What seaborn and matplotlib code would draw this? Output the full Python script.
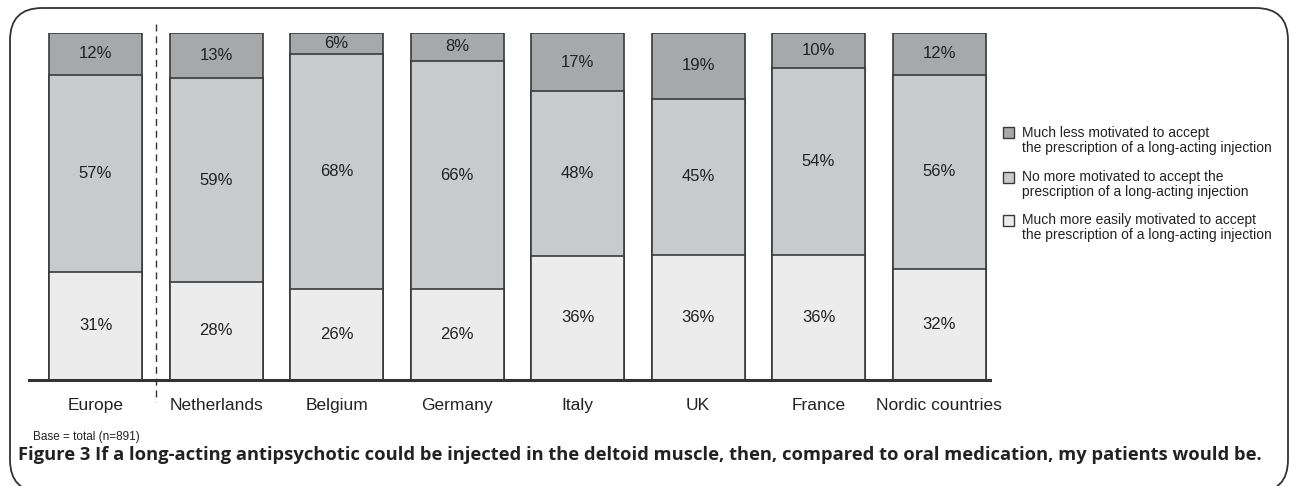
import numpy as np
import matplotlib
matplotlib.use("Agg")
import matplotlib.pyplot as plt
from matplotlib.patches import FancyBboxPatch, Rectangle
import seaborn as sns

# data
countries = ["Europe", "Netherlands", "Belgium", "Germany", "Italy", "UK", "France", "Nordic countries"]
much_less = [12, 13, 6, 8, 17, 19, 10, 12]
no_more = [57, 59, 68, 66, 48, 45, 54, 56]
much_more = [31, 28, 26, 26, 36, 36, 36, 32]

legend_labels = [
    "Much less motivated to accept\nthe prescription of a long-acting injection",
    "No more motivated to accept the\nprescription of a long-acting injection",
    "Much more easily motivated to accept\nthe prescription of a long-acting injection",
]
base_note = "Base = total (n=891)"
caption_bold = "Figure 3"
caption_rest = "If a long-acting antipsychotic could be injected in the deltoid muscle, then, compared to oral medication, my patients would be."

c_dark = "#a7a8aa"
c_mid = "#c9cacc"
c_light = "#ececed"
edge = "#3a3a3a"

sns.set_style("white")
plt.rcParams["font.family"] = ["Liberation Sans", "DejaVu Sans"]

W, H = 1290, 486
fig = plt.figure(figsize=(W / 100, H / 100), dpi=100)
ax = fig.add_axes([29 / W, 106.5 / H, 961 / W, 346.5 / H])

# bars are scaled so each column fills 100%
low = np.array(much_more, float)
mid = np.array(no_more, float)
top = np.array(much_less, float)
tot = low + mid + top
low_n = low / tot * 100
mid_n = mid / tot * 100
top_n = top / tot * 100

bw = 0.772
sns.barplot(x=countries, y=low_n + mid_n + top_n, color=c_dark, saturation=1,
            edgecolor=edge, linewidth=1.2, width=bw, ax=ax)
sns.barplot(x=countries, y=low_n + mid_n, color=c_mid, saturation=1,
            edgecolor=edge, linewidth=1.2, width=bw, ax=ax)
sns.barplot(x=countries, y=low_n, color=c_light, saturation=1,
            edgecolor=edge, linewidth=1.2, width=bw, ax=ax)

for i in range(len(countries)):
    ax.text(i, low_n[i] / 2, f"{much_more[i]}%", ha="center", va="center", fontsize=12, color="#222222")
    ax.text(i, low_n[i] + mid_n[i] / 2, f"{no_more[i]}%", ha="center", va="center", fontsize=12, color="#222222")
    ax.text(i, low_n[i] + mid_n[i] + top_n[i] / 2, f"{much_less[i]}%", ha="center", va="center", fontsize=12, color="#222222")

ax.set_xlim(-0.552, 7.423)
ax.set_ylim(0, 100)
ax.set_xlabel("")
ax.set_ylabel("")
ax.set_yticks([])
for s in ["left", "right", "top"]:
    ax.spines[s].set_visible(False)
ax.spines["bottom"].set_linewidth(2.2)
ax.spines["bottom"].set_color("#333333")
ax.tick_params(axis="x", length=0, pad=13, labelsize=12.5, colors="#222222")

# dashed separator between Europe and the countries
ax.plot([0.5, 0.5], [102.6, -6.5], color="#333333", lw=1, ls=(0, (5, 3.5)), clip_on=False)

# legend drawn by hand, square aligned with the first line
leg_y = [133, 177, 220]
leg_c = [c_dark, c_mid, c_light]
for y, c, lab in zip(leg_y, leg_c, legend_labels):
    fig.patches.append(Rectangle((1003 / W, 1 - (y + 5.5) / H), 11 / W, 11 / H,
                                 transform=fig.transFigure, facecolor=c,
                                 edgecolor=edge, lw=1))
    fig.text(1022 / W, 1 - (y - 7) / H, lab, ha="left", va="top", fontsize=10,
             linespacing=1.1, color="#222222")

fig.text(33 / W, 1 - 437 / H, base_note, ha="left", va="center", fontsize=8.5, color="#222222")

# caption, sized to span the same width as in the original
cap_font = ["Open Sans", "DejaVu Sans"]
cap = fig.text(18 / W, 1 - 455 / H, caption_bold + " " + caption_rest, ha="left", va="center",
               fontsize=13, fontweight="bold", family=cap_font, color="#222222")
fig.canvas.draw()
bb = cap.get_window_extent()
cap.set_fontsize(13 * 1232 / bb.width)

frame = FancyBboxPatch((10 / W, -6 / H), 1278 / W, 484 / H,
                       boxstyle="round,pad=0,rounding_size=0.025",
                       transform=fig.transFigure, facecolor="none",
                       edgecolor="#333333", lw=1.3, mutation_aspect=W / H)
fig.patches.append(frame)

fig.savefig("out.png", dpi=100)
